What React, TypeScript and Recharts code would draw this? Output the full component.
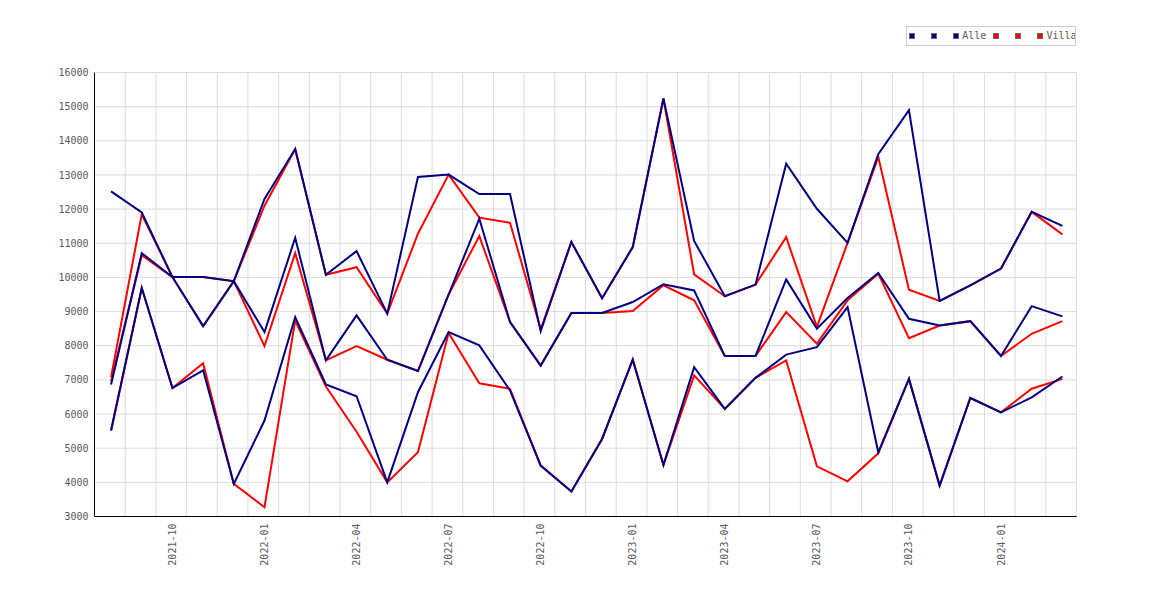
import React from 'react';
import { LineChart, Line, XAxis, YAxis, CartesianGrid, ReferenceLine } from 'recharts';

const months = [
  '2021-08', '2021-09', '2021-10', '2021-11', '2021-12',
  '2022-01', '2022-02', '2022-03', '2022-04', '2022-05', '2022-06', '2022-07', '2022-08', '2022-09', '2022-10', '2022-11', '2022-12',
  '2023-01', '2023-02', '2023-03', '2023-04', '2023-05', '2023-06', '2023-07', '2023-08', '2023-09', '2023-10', '2023-11', '2023-12',
  '2024-01', '2024-02', '2024-03',
];

const alleMax = [12520, 11900, 10010, 10010, 9890, 12300, 13760, 10080, 10770, 8940, 12940, 13010, 12440, 12440, 8430, 11040, 9390, 10890, 15240, 11070, 9450, 9790, 13330, 12010, 11010, 13610, 14900, 9310, 9770, 10260, 11920, 11510];
const alleMid = [6865, 10710, 10010, 8575, 9890, 8400, 11160, 7570, 8890, 7590, 7260, 9500, 11720, 8690, 7420, 8960, 8960, 9280, 9800, 9620, 7700, 7700, 9940, 8500, 9395, 10130, 8790, 8590, 8720, 7700, 9160, 8860];
const alleMin = [5520, 9690, 6760, 7280, 3955, 5810, 8840, 6865, 6520, 4000, 6640, 8400, 8010, 6690, 4490, 3730, 5270, 7590, 4510, 7370, 6150, 7060, 7740, 7960, 9130, 4880, 7030, 3905, 6470, 6050, 6490, 7100];

const villaMax = [7080, 11850, 10010, 10010, 9890, 12100, 13760, 10080, 10300, 8940, 11280, 13010, 11750, 11600, 8480, 11040, 9390, 10890, 15240, 10090, 9450, 9790, 11180, 8550, 11010, 13530, 9640, 9310, 9770, 10260, 11920, 11260];
const villaMid = [6950, 10650, 10010, 8575, 9890, 7990, 10710, 7570, 7990, 7590, 7260, 9500, 11210, 8700, 7420, 8960, 8960, 9015, 9770, 9330, 7700, 7700, 8985, 8060, 9330, 10110, 8220, 8590, 8720, 7700, 8350, 8720];
const villaMin = [5520, 9690, 6760, 7490, 3955, 3270, 8740, 6806, 5480, 4000, 4880, 8370, 6900, 6740, 4490, 3730, 5270, 7590, 4510, 7130, 6150, 7060, 7570, 4470, 4030, 4850, 7030, 3905, 6470, 6050, 6740, 7030];

const xTickLabels = ['2021-10', '2022-01', '2022-04', '2022-07', '2022-10', '2023-01', '2023-04', '2023-07', '2023-10', '2024-01'];
const yTicks = [3000, 4000, 5000, 6000, 7000, 8000, 9000, 10000, 11000, 12000, 13000, 14000, 15000, 16000];

const legendItems = [
  { name: '', color: '#000080' },
  { name: '', color: '#000080' },
  { name: 'Alle', color: '#000080' },
  { name: '', color: '#ff0000' },
  { name: '', color: '#ff0000' },
  { name: 'Villa', color: '#ff0000' },
];

const data = months.map((m, i) => ({
  idx: i,
  month: m,
  aMax: alleMax[i],
  aMid: alleMid[i],
  aMin: alleMin[i],
  vMax: villaMax[i],
  vMid: villaMid[i],
  vMin: villaMin[i],
}));

const xTicks = xTickLabels.map((l) => months.indexOf(l));
const gridX = months.map((_, i) => i + 0.46);

const FONT = '"DejaVu Sans Mono", monospace';
const TEXT = '#5a5a5a';

const XTick = (props: any) => {
  const { x, y, payload } = props;
  return (
    <text
      x={0}
      y={0}
      transform={`translate(${x},${y + 7}) rotate(-90)`}
      textAnchor="end"
      dominantBaseline="central"
      fill={TEXT}
      fontSize={10}
      fontFamily={FONT}
    >
      {months[payload.value]}
    </text>
  );
};

const Legend = () => (
  <div
    style={{
      position: 'absolute',
      left: 897.7,
      top: 18,
      width: 170.3,
      height: 20,
      boxSizing: 'border-box',
      border: '1px solid #cccccc',
      background: '#ffffff',
      display: 'flex',
      alignItems: 'center',
      paddingLeft: 2.6,
      fontFamily: FONT,
      fontSize: 10,
      color: TEXT,
      whiteSpace: 'nowrap',
      overflow: 'hidden',
    }}
  >
    {legendItems.map((it, k) => (
      <div key={k} style={{ display: 'flex', alignItems: 'center', marginRight: it.name ? 7 : 16 }}>
        <span
          style={{
            display: 'inline-block',
            width: 6,
            height: 6,
            boxSizing: 'border-box',
            background: it.color,
            border: '1px solid #666666',
          }}
        />
        {it.name ? <span style={{ marginLeft: 3, lineHeight: '10px' }}>{it.name}</span> : null}
      </div>
    ))}
  </div>
);

export default function App() {
  return (
    <div style={{ position: 'relative', width: 1162, height: 584 }}>
      <LineChart width={1162} height={584} data={data} margin={{ top: 64.5, right: 93.5, left: 0.5, bottom: 0 }}>
        <CartesianGrid vertical={false} stroke="#dcdcdc" strokeWidth={1} />
        {gridX.map((g) => (
          <ReferenceLine key={g} x={g} stroke="#dcdcdc" strokeWidth={1} ifOverflow="extendDomain" />
        ))}
        <XAxis
          type="number"
          dataKey="idx"
          domain={[-0.54, 31.46]}
          allowDataOverflow
          ticks={xTicks}
          interval={0}
          height={75.5}
          tickLine={false}
          tickSize={0}
          tickMargin={0}
          axisLine={{ stroke: '#000000', strokeWidth: 1 }}
          tick={<XTick />}
        />
        <YAxis
          type="number"
          domain={[3000, 16000]}
          ticks={yTicks}
          interval={0}
          width={86}
          tickLine={false}
          tickSize={0}
          tickMargin={6}
          axisLine={{ stroke: '#000000', strokeWidth: 1 }}
          tick={{ fill: TEXT, fontSize: 10, fontFamily: FONT }}
        />
        <Line type="linear" dataKey="vMax" stroke="#ff0000" strokeWidth={2} dot={false} isAnimationActive={false} />
        <Line type="linear" dataKey="vMid" stroke="#ff0000" strokeWidth={2} dot={false} isAnimationActive={false} />
        <Line type="linear" dataKey="vMin" stroke="#ff0000" strokeWidth={2} dot={false} isAnimationActive={false} />
        <Line type="linear" dataKey="aMax" stroke="#000080" strokeWidth={2} dot={false} isAnimationActive={false} />
        <Line type="linear" dataKey="aMid" stroke="#000080" strokeWidth={2} dot={false} isAnimationActive={false} />
        <Line type="linear" dataKey="aMin" stroke="#000080" strokeWidth={2} dot={false} isAnimationActive={false} />
      </LineChart>
      <Legend />
    </div>
  );
}
